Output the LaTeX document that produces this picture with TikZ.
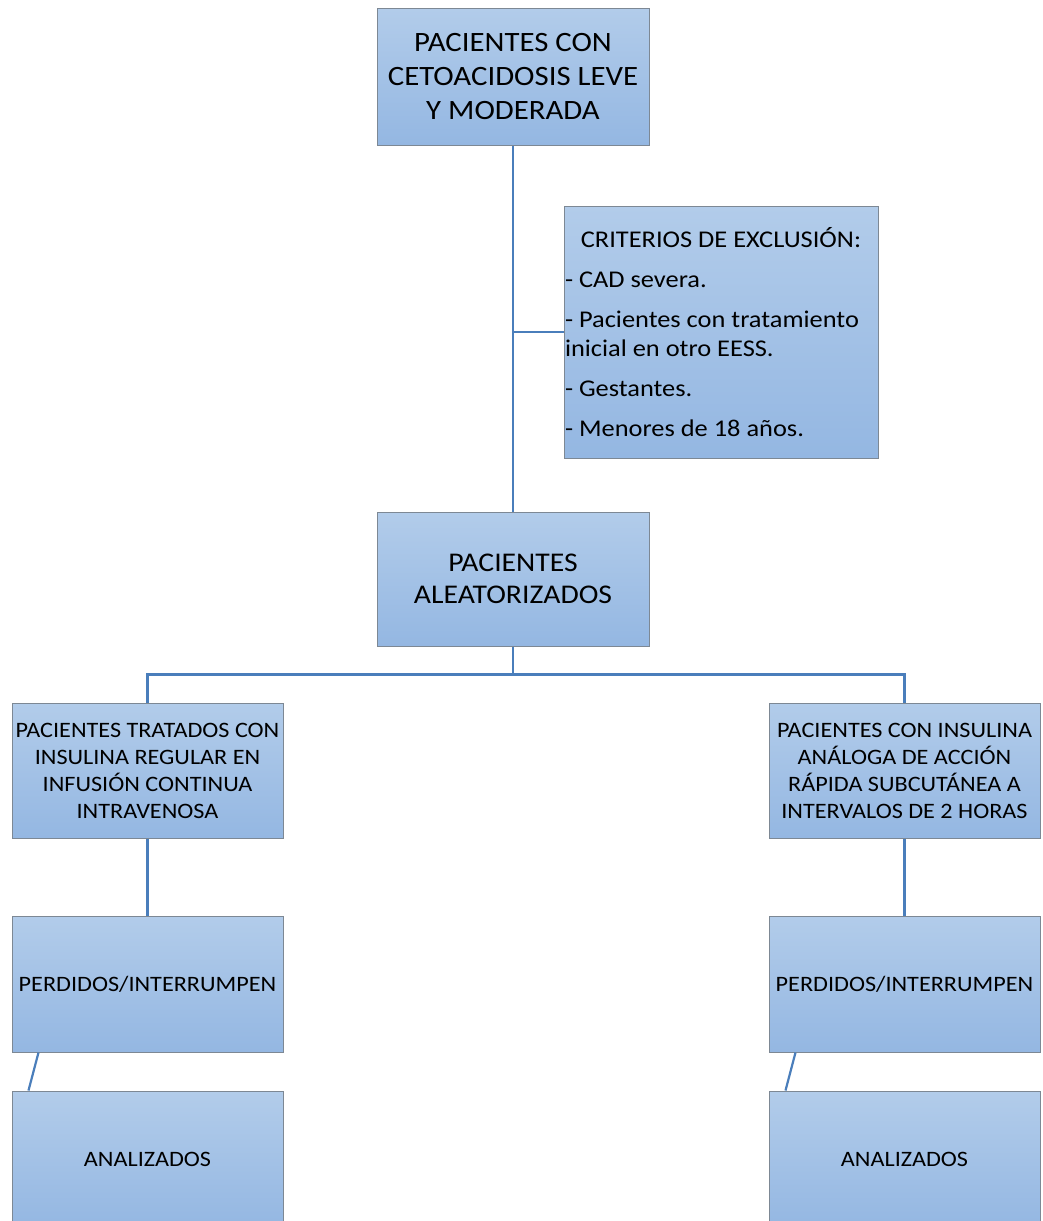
\documentclass[tikz,border=0pt]{standalone}
\usepackage{fontspec}
\setmainfont[FakeStretch=1.1]{Carlito}
\usepackage{xcolor}
\usetikzlibrary{positioning}

\definecolor{boxtop}{HTML}{B2CCEA}
\definecolor{boxbot}{HTML}{94B7E2}
\definecolor{boxline}{HTML}{7D8894}
\definecolor{linkblue}{HTML}{4A7EBB}

\begin{document}
\begin{tikzpicture}[
    x=1pt, y=1pt,
    flow/.style={
      rectangle, draw=boxline, line width=1pt, top color=boxtop, bottom color=boxbot,
      align=center, inner sep=2pt, minimum width=272pt, minimum height=137pt
    },
    arm/.style={flow, minimum width=271pt, minimum height=135pt,
      font=\fontsize{22}{27}\selectfont},
    link/.style={linkblue, line width=2.2pt}
  ]
    \useasboundingbox (0,0) rectangle (1043,-1221);
    \clip (0,0) rectangle (1043,-1221);

    \node[flow, font=\fontsize{28}{34}\selectfont] (start) at (513,-76.5) {%
      PACIENTES CON\\CETOACIDOSIS LEVE\\Y MODERADA};
    \node[flow, below=366pt of start, minimum height=134pt,
      font=\fontsize{27}{32}\selectfont] (random) {PACIENTES\\ALEATORIZADOS};
    \node[flow, minimum width=314pt, minimum height=252pt, inner xsep=1pt,
      align=left, font=\fontsize{24}{29}\selectfont] (excl) at (721,-332) {%
      \makebox[312pt][c]{CRITERIOS DE EXCLUSIÓN:}\\[11pt]
      - CAD severa.\\[11pt]
      - Pacientes con tratamiento\\inicial en otro EESS.\\[11pt]
      - Gestantes.\\[11pt]
      - Menores de 18 años.};

    % brazos del estudio
    \node[arm] (armiv) at (147.5,-770.5) {%
      PACIENTES TRATADOS CON\\INSULINA REGULAR EN\\INFUSIÓN CONTINUA\\INTRAVENOSA};
    \node[arm] (armsc) at (904.5,-770.5) {%
      PACIENTES CON INSULINA\\ANÁLOGA DE ACCIÓN\\RÁPIDA SUBCUTÁNEA A\\INTERVALOS DE 2 HORAS};
    \node[arm, below=77pt of armiv, minimum height=136pt] (lostiv) {PERDIDOS/INTERRUMPEN};
    \node[arm, below=77pt of armsc, minimum height=136pt] (lostsc) {PERDIDOS/INTERRUMPEN};
    \node[arm, below=38pt of lostiv, minimum height=136pt] (doneiv) {ANALIZADOS};
    \node[arm, below=38pt of lostsc, minimum height=136pt] (donesc) {ANALIZADOS};

    \draw[link] (start.south) -- (random.north);
    \draw[link] (excl.west) -- (start.south |- excl.west);
    \draw[link] (random.south) -- ++(0,-28) -| (armiv.north);
    \draw[link] (random.south) -- ++(0,-28) -| (armsc.north);
    \draw[link] (armiv.south) -- (lostiv.north);
    \draw[link] (armsc.south) -- (lostsc.north);
    \draw[link] ([xshift=27pt]lostiv.south west) -- ([xshift=17pt]doneiv.north west);
    \draw[link] ([xshift=27pt]lostsc.south west) -- ([xshift=17pt]donesc.north west);
  \end{tikzpicture}
\end{document}
